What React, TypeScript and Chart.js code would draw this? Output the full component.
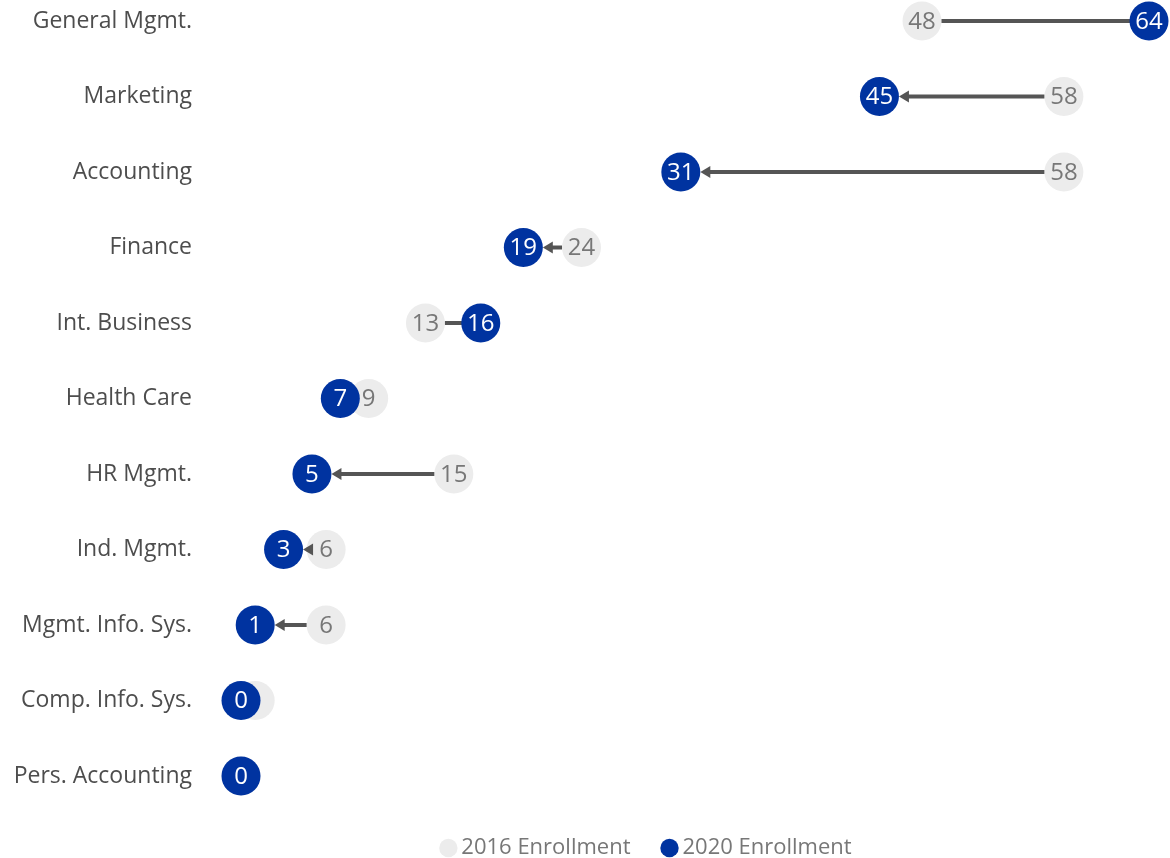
import React, { useEffect, useRef } from "react";
import { Chart, registerables } from "chart.js";

Chart.register(...registerables);

const categories = [
  "General Mgmt.",
  "Marketing",
  "Accounting",
  "Finance",
  "Int. Business",
  "Health Care",
  "HR Mgmt.",
  "Ind. Mgmt.",
  "Mgmt. Info. Sys.",
  "Comp. Info. Sys.",
  "Pers. Accounting",
];
const enroll2016 = [48, 58, 58, 24, 13, 9, 15, 6, 6, 1, 0];
const enroll2020 = [64, 45, 31, 19.9, 16.9, 7, 5, 3, 1, 0, 0];
const seriesNames = ["2016 Enrollment", "2020 Enrollment"];

const FONT = "'Open Sans', 'DejaVu Sans', sans-serif";
const GRAY = "#ececec";
const GRAY_TEXT = "#777777";
const BLUE = "#0033a0";
const LINE = "#555555";
const R = 19.5;

function drawArrows(chart: any) {
  const { ctx } = chart;
  const xs = chart.scales.x;
  const ys = chart.scales.y;
  ctx.save();
  ctx.strokeStyle = LINE;
  ctx.fillStyle = LINE;
  ctx.lineWidth = 4;
  for (let i = 0; i < categories.length; i++) {
    const x1 = xs.getPixelForValue(enroll2016[i]);
    const x2 = xs.getPixelForValue(enroll2020[i]);
    const py = ys.getPixelForValue(i);
    if (Math.abs(x2 - x1) <= 2 * R) continue;
    if (x2 > x1) {
      ctx.beginPath();
      ctx.moveTo(x1 + R, py);
      ctx.lineTo(x2, py);
      ctx.stroke();
    } else {
      const tip = x2 + R;
      const head = 10;
      ctx.beginPath();
      ctx.moveTo(x1 - R, py);
      ctx.lineTo(tip + head - 1, py);
      ctx.stroke();
      ctx.beginPath();
      ctx.moveTo(tip, py);
      ctx.lineTo(tip + head, py - 6);
      ctx.lineTo(tip + head, py + 6);
      ctx.closePath();
      ctx.fill();
    }
  }
  ctx.restore();
}

const dumbbellPlugin = {
  id: "dumbbell",
  beforeDraw(chart: any) {
    const lg = chart.legend;
    if (lg) lg.left = 149;
  },
  afterDatasetDraw(chart: any, args: any) {
    const { ctx } = chart;
    const meta = args.meta;
    const idx = args.index;
    ctx.save();
    ctx.font = `24px ${FONT}`;
    ctx.textAlign = "center";
    ctx.textBaseline = "middle";
    ctx.fillStyle = idx === 0 ? GRAY_TEXT : "#ffffff";
    const vals = idx === 0 ? enroll2016 : enroll2020;
    meta.data.forEach((pt: any, i: number) => {
      ctx.fillText(String(Math.trunc(vals[i])), pt.x, pt.y + 1);
    });
    ctx.restore();
    if (idx === 0) drawArrows(chart);
  },
};

export default function App() {
  const ref = useRef<HTMLCanvasElement>(null);
  useEffect(() => {
    if (!ref.current) return;
    Chart.defaults.font.family = FONT;
    const chart = new Chart(ref.current, {
      type: "scatter",
      data: {
        datasets: [
          {
            label: seriesNames[0],
            data: categories.map((c, i) => ({ x: enroll2016[i], y: c })),
            backgroundColor: GRAY,
            borderColor: GRAY,
            borderWidth: 0,
            pointRadius: R,
            pointHoverRadius: R,
            pointStyle: "circle",
            order: 1,
            clip: false,
          } as any,
          {
            label: seriesNames[1],
            data: categories.map((c, i) => ({ x: enroll2020[i], y: c })),
            backgroundColor: BLUE,
            borderColor: BLUE,
            borderWidth: 0,
            pointRadius: R,
            pointHoverRadius: R,
            pointStyle: "circle",
            order: 0,
            clip: false,
          } as any,
        ],
      },
      options: {
        responsive: false,
        animation: false,
        events: [],
        layout: { padding: { top: 21, right: 21, left: 0, bottom: 0 } },
        scales: {
          x: {
            type: "linear",
            min: 0,
            max: 64,
            display: true,
            grid: { display: false, drawTicks: false },
            border: { display: false },
            ticks: { display: false },
            afterFit(scale: any) {
              scale.height = 24;
              scale.paddingLeft = 0;
              scale.paddingRight = 0;
            },
          },
          y: {
            type: "category",
            labels: categories,
            offset: false,
            grid: { display: false, drawTicks: false },
            border: { display: false },
            ticks: {
              padding: 49,
              color: "#4d4d4d",
              font: { size: 23, family: FONT },
            },
            afterFit(scale: any) {
              scale.width = 241;
              scale.paddingTop = 0;
              scale.paddingBottom = 0;
            },
          },
        },
        plugins: {
          tooltip: { enabled: false },
          legend: {
            position: "bottom",
            maxHeight: 58,
            labels: {
              usePointStyle: true,
              pointStyle: "circle",
              boxWidth: 4,
              boxHeight: 13,
              padding: 37,
              color: GRAY_TEXT,
              font: { size: 22, family: FONT },
              sort: (a: any, b: any) => a.datasetIndex - b.datasetIndex,
            },
          },
        },
      },
      plugins: [dumbbellPlugin],
    });
    return () => chart.destroy();
  }, []);
  return (
    <div style={{ position: "absolute", left: 0, top: 0, width: 1170, height: 858 }}>
      <canvas ref={ref} width={1170} height={858} style={{ display: "block" }} />
    </div>
  );
}
